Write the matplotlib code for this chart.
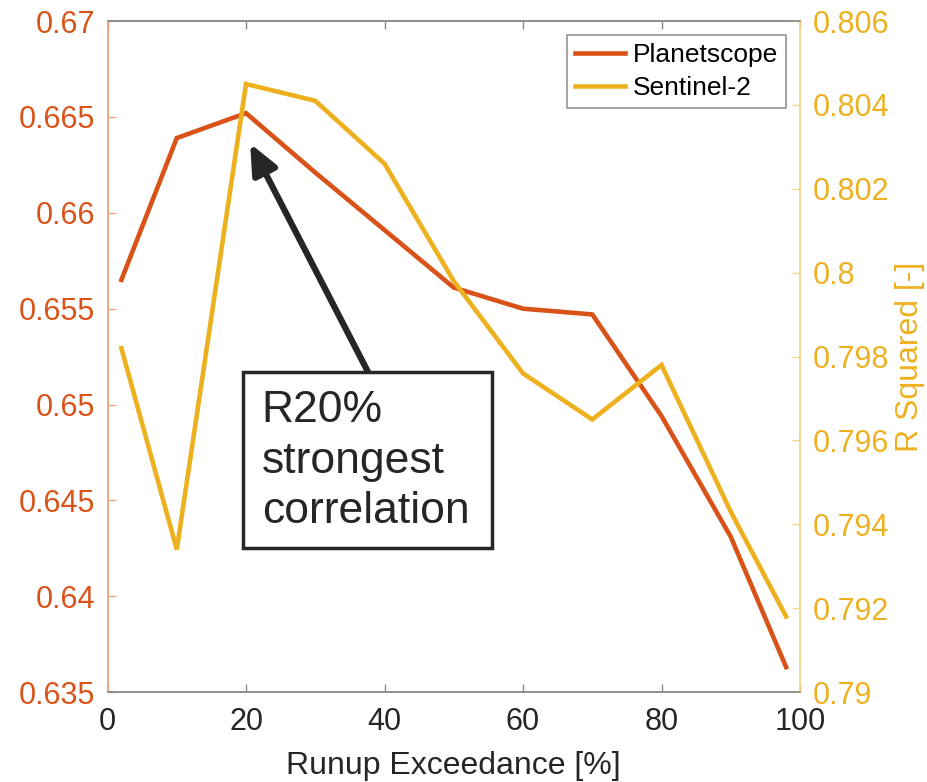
import matplotlib
matplotlib.use('Agg')
import matplotlib.pyplot as plt
from matplotlib.patches import Rectangle

plt.rcParams['font.family'] = ['Liberation Sans', 'DejaVu Sans']

# runup exceedance levels [%]
exceedance = [2, 10, 20, 30, 40, 50, 60, 70, 80, 90, 98]
# R squared, Planetscope (left axis)
r2_planet = [0.6565, 0.6639, 0.6652, 0.6621, 0.6591, 0.6561, 0.6550, 0.6547,
             0.6494, 0.6431, 0.6363]
# R squared, Sentinel-2 (right axis)
r2_sentinel = [0.7982, 0.7934, 0.8045, 0.8041, 0.8026, 0.7998, 0.7976, 0.7965,
               0.7978, 0.7943, 0.7918]

left_ticks = [0.635, 0.64, 0.645, 0.65, 0.655, 0.66, 0.665, 0.67]
right_ticks = [0.79, 0.792, 0.794, 0.796, 0.798, 0.8, 0.802, 0.804, 0.806]
x_ticks = [0, 20, 40, 60, 80, 100]

c_planet = '#D95319'
c_sentinel = '#EDB120'
c_axis = '#262626'

fig = plt.figure(figsize=(9.27, 7.82), dpi=100)
ax1 = fig.add_axes([0.116, 0.115, 0.747, 0.858])
ax2 = ax1.twinx()

l1, = ax1.plot(exceedance, r2_planet, color=c_planet, lw=3.3,
               solid_joinstyle='miter', label='Planetscope')
l2, = ax2.plot(exceedance, r2_sentinel, color=c_sentinel, lw=3.3,
               solid_joinstyle='miter', label='Sentinel-2')

ax1.set_xlim(0, 100)
ax1.set_ylim(0.635, 0.67)
ax2.set_ylim(0.79, 0.806)

ax1.set_xticks(x_ticks)
ax1.set_xticklabels([str(v) for v in x_ticks])
ax1.set_yticks(left_ticks)
ax1.set_yticklabels(['%g' % v for v in left_ticks])
ax2.set_yticks(right_ticks)
ax2.set_yticklabels(['%g' % v for v in right_ticks])

ax1.tick_params(axis='x', direction='in', length=6, width=1, colors='#8a8a8a',
                labelcolor=c_axis, labelsize=22, top=True, pad=11)
ax1.tick_params(axis='y', direction='in', length=6, width=1, colors='#f0a585',
                labelcolor=c_planet, labelsize=22, pad=9)
ax2.tick_params(axis='y', direction='in', length=6, width=1, colors='#f6d68a',
                labelcolor=c_sentinel, labelsize=22, pad=9)

for ax in (ax1, ax2):
    ax.spines['top'].set_color('#8a8a8a')
    ax.spines['bottom'].set_color('#8a8a8a')
    ax.spines['left'].set_color('#f0a585')
    ax.spines['right'].set_color('#f6d68a')
    for s in ax.spines.values():
        s.set_linewidth(1.1)

ax1.set_xlabel('Runup Exceedance [%]', fontsize=23, color=c_axis, labelpad=10)
ax2.set_ylabel('R Squared [-]', fontsize=23, color=c_sentinel, labelpad=4)

# annotation arrow and text box
ax1.annotate('', xy=(20.6, 0.66361), xytext=(37.6, 0.65171),
             arrowprops=dict(arrowstyle='-|>,head_length=0.9,head_width=0.4',
                             lw=4.5, color=c_axis, mutation_scale=20,
                             shrinkA=0, shrinkB=0))
ax2.add_patch(Rectangle((0.1952, 0.2142), 0.3596, 0.2631, transform=ax1.transAxes,
                        facecolor='white', edgecolor=c_axis, lw=2.5, zorder=5))
ax2.text(0.2227, 0.3440, 'R20%\nstrongest\ncorrelation', transform=ax1.transAxes,
         fontsize=32, color=c_axis, ha='left', va='center', linespacing=1.3,
         zorder=6)

leg = ax2.legend([l1, l2], ['Planetscope', 'Sentinel-2'], loc='upper right',
                 bbox_to_anchor=(0.9798, 0.979), borderaxespad=0, fontsize=19,
                 fancybox=False, edgecolor='#8a8a8a', framealpha=1,
                 handlelength=1.9, handletextpad=0.3, labelspacing=0.35,
                 borderpad=0.3)
leg.get_frame().set_linewidth(1.1)

fig.savefig('out.png', dpi=100)
